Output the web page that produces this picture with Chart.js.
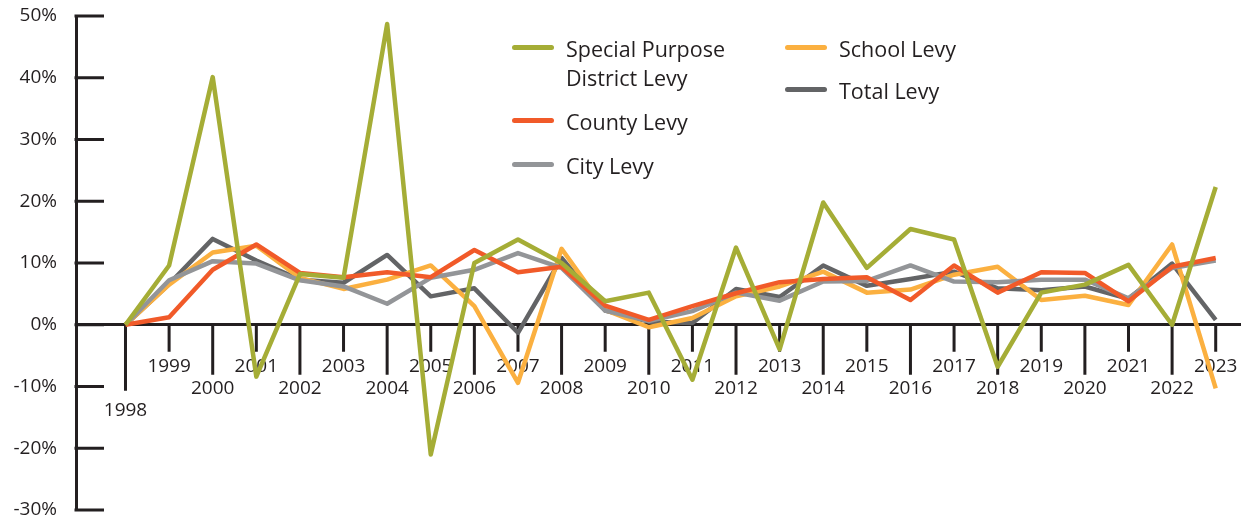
<!DOCTYPE html>
<html>
<head>
<meta charset="utf-8">
<title>Levy Change by Year</title>
<script src="https://cdn.jsdelivr.net/npm/chart.js@4.4.1/dist/chart.umd.min.js"></script>
<style>
    body { margin: 0; background: #fff; }
    #wrap { position: relative; width: 1244px; height: 521px; }
    #legend { position: absolute; left: 0; top: 0; font-family: "Open Sans", sans-serif; font-size: 21.5px; color: #231f20; }
    .lg-item { position: absolute; }
    .lg-line { position: absolute; left: 0; top: -2.5px; width: 42px; height: 5px; border-radius: 3px; }
    .lg-text { position: absolute; left: 54px; top: -13px; width: 180px; line-height: 29px; }
</style>
</head>
<body>
<div id="wrap">
    <canvas id="LevyChangeChart"></canvas>
    <div id="legend"></div>
</div>
<script>
// year over year change, %
var years = [1998, 1999, 2000, 2001, 2002, 2003, 2004, 2005, 2006, 2007, 2008, 2009, 2010,
    2011, 2012, 2013, 2014, 2015, 2016, 2017, 2018, 2019, 2020, 2021, 2022, 2023];

var specialPurposeLevy = [0, 9.6, 40.1, -8.4, 8.2, 7.6, 48.7, -21, 10, 13.8, 10, 3.8, 5.2,
    -8.9, 12.5, -4, 19.8, 9.2, 15.5, 13.8, -6.8, 5.2, 6.5, 9.7, 0, 22.3];
var countyLevy = [0, 1.2, 8.9, 13, 8.4, 7.7, 8.5, 7.7, 12.1, 8.5, 9.4, 3.1, 0.8,
    3, 5.1, 6.9, 7.4, 7.7, 4, 9.6, 5.2, 8.5, 8.4, 3.8, 9.4, 10.8];
var cityLevy = [0, 7.2, 10.3, 9.9, 7.2, 6.2, 3.4, 7.6, 8.9, 11.6, 9.2, 2.3, 0.6,
    2.2, 5.2, 3.9, 7, 7.1, 9.6, 7, 6.9, 7.3, 7.3, 4.3, 9.2, 10.4];
var schoolLevy = [0, 6.5, 11.7, 12.8, 7.6, 5.8, 7.3, 9.6, 3, -9.4, 12.3, 2.4, -0.4,
    1.1, 4.6, 6.2, 8.6, 5.2, 5.7, 8.1, 9.4, 4, 4.7, 3.2, 13, -10.3];
var totalLevy = [0, 6.6, 13.9, 10.4, 7.3, 6.8, 11.3, 4.6, 5.9, -1.3, 10.8, 2.3, 0.5,
    0.3, 5.8, 4.5, 9.6, 6.3, 7.4, 8.6, 5.9, 5.6, 6.2, 4.2, 9.9, 0.8];

var seriesNames = ['Special Purpose District Levy', 'County Levy', 'City Levy', 'School Levy', 'Total Levy'];
var seriesColors = ['#a5ad36', '#f15a29', '#939598', '#fbb040', '#636466'];

var axisColor = '#231f20';
var fontFamily = '"Open Sans", sans-serif';

// tick marks: y ticks point into the plot, x ticks hang below the zero line
var axisTicksPlugin = {
    id: 'axisTicks',
    beforeDatasetsDraw: function (chart) {
        var ctx = chart.ctx;
        var xs = chart.scales.x;
        var ys = chart.scales.y;
        var left = chart.chartArea.left;
        var zeroY = ys.getPixelForValue(0);
        ctx.save();
        ctx.strokeStyle = axisColor;
        ctx.lineWidth = 3;
        ctx.beginPath();
        ys.ticks.forEach(function (t) {
            var py = ys.getPixelForValue(t.value);
            ctx.moveTo(left - 1.5, py);
            ctx.lineTo(left + 28, py);
        });
        xs.ticks.forEach(function (t) {
            var px = xs.getPixelForValue(t.value);
            var len = t.value === years[0] ? 66 : ((t.value - years[0]) % 2 === 0 ? 50 : 27);
            ctx.moveTo(px, zeroY);
            ctx.lineTo(px, zeroY + len);
        });
        ctx.stroke();
        ctx.restore();
    }
};

function yearLabel(value) {
    var step = value - years[0];
    if (step === 0) return ['', '', String(value)];
    if (step % 2 === 0) return ['', String(value)];
    return [String(value)];
}

function LevyLineChart() {
    var ctx = document.getElementById('LevyChangeChart').getContext('2d');
    var allSeries = [specialPurposeLevy, countyLevy, cityLevy, schoolLevy, totalLevy];

    var datasets = allSeries.map(function (values, i) {
        return {
            label: seriesNames[i],
            data: values,
            borderColor: seriesColors[i],
            backgroundColor: seriesColors[i],
            borderWidth: 4.5,
            borderJoinStyle: 'round',
            pointRadius: 0,
            tension: 0,
            fill: false
        };
    });

    window.LevyChart = new Chart(ctx, {
        type: 'line',
        data: { labels: years, datasets: datasets },
        options: {
            responsive: true,
            maintainAspectRatio: false,
            animation: false,
            layout: { padding: { top: 16, right: 4, bottom: 11, left: 0 } },
            plugins: {
                legend: { display: false },
                tooltip: { enabled: false }
            },
            scales: {
                x: {
                    type: 'linear',
                    position: { y: 0 },
                    min: 1996.865,
                    max: 2023.557,
                    afterBuildTicks: function (scale) {
                        scale.ticks = years.map(function (y) { return { value: y }; });
                    },
                    afterFit: function (scale) {
                        scale.paddingLeft = 0;
                        scale.paddingRight = 0;
                    },
                    grid: { drawOnChartArea: false, drawTicks: false },
                    border: { display: true, color: axisColor, width: 3 },
                    ticks: {
                        autoSkip: false,
                        maxRotation: 0,
                        minRotation: 0,
                        padding: 31,
                        color: axisColor,
                        font: { family: fontFamily, size: 19, lineHeight: 22 / 19 },
                        callback: function (value) { return yearLabel(value); }
                    }
                },
                y: {
                    min: -30,
                    max: 50,
                    afterFit: function (scale) {
                        scale.width = 76;
                        scale.paddingTop = 0;
                        scale.paddingBottom = 0;
                    },
                    grid: { drawOnChartArea: false, drawTicks: false },
                    border: { display: true, color: axisColor, width: 3 },
                    ticks: {
                        stepSize: 10,
                        padding: 19,
                        color: axisColor,
                        font: { family: fontFamily, size: 19 },
                        callback: function (value) { return value + '%'; }
                    }
                }
            }
        },
        plugins: [axisTicksPlugin]
    });
}

// two column legend, built from the chart's own datasets
function BuildLegend() {
    var spots = [
        { x: 512, y: 47 }, { x: 512, y: 120 }, { x: 512, y: 164 },
        { x: 785, y: 47 }, { x: 785, y: 89 }
    ];
    var box = document.getElementById('legend');
    window.LevyChart.data.datasets.forEach(function (ds, i) {
        var item = document.createElement('div');
        item.className = 'lg-item';
        item.style.left = spots[i].x + 'px';
        item.style.top = spots[i].y + 'px';
        var line = document.createElement('span');
        line.className = 'lg-line';
        line.style.background = ds.borderColor;
        var text = document.createElement('span');
        text.className = 'lg-text';
        text.textContent = ds.label;
        item.appendChild(line);
        item.appendChild(text);
        box.appendChild(item);
    });
}

LevyLineChart();
BuildLegend();
</script>
</body>
</html>
